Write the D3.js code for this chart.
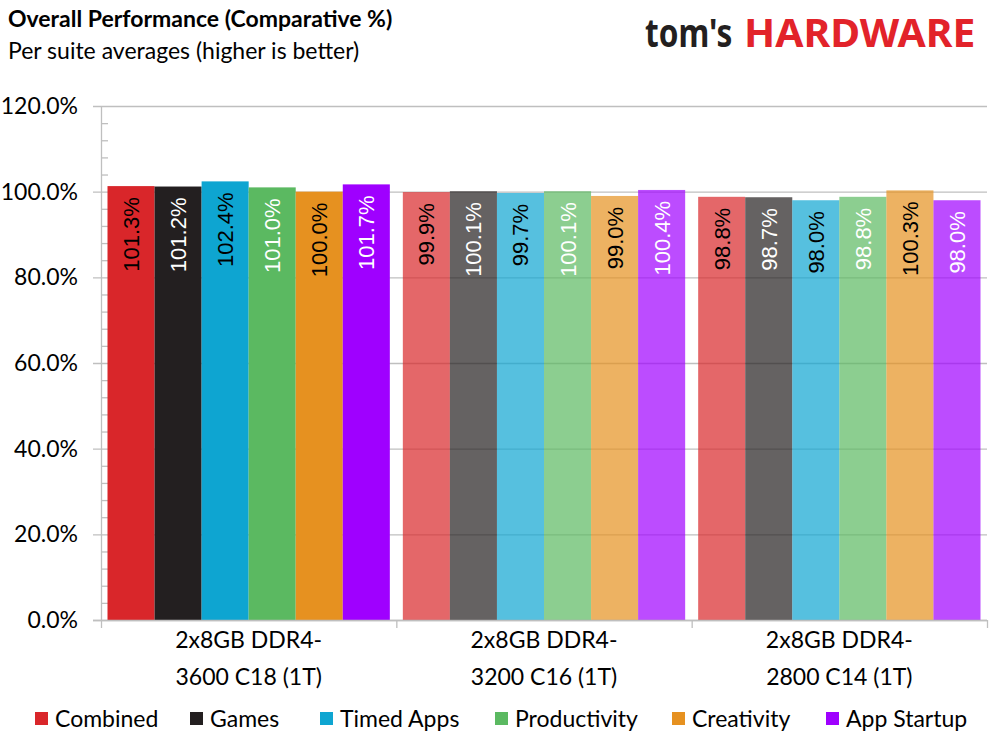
<!DOCTYPE html>
<html lang="en">
<head>
<meta charset="utf-8">
<title>Overall Performance</title>
<script src="https://cdn.jsdelivr.net/npm/d3@7"></script>
<style>
  body { margin: 0; background: #fff; }
  text { font-family: Lato, "Open Sans", sans-serif; fill: #000; }
</style>
</head>
<body>
<script>
// data
var categories = ["2x8GB DDR4-3600 C18 (1T)", "2x8GB DDR4-3200 C16 (1T)", "2x8GB DDR4-2800 C14 (1T)"];
var catLines = [["2x8GB DDR4-", "3600 C18 (1T)"], ["2x8GB DDR4-", "3200 C16 (1T)"], ["2x8GB DDR4-", "2800 C14 (1T)"]];
var seriesNames = ["Combined", "Games", "Timed Apps", "Productivity", "Creativity", "App Startup"];
var combined = [101.3, 99.9, 98.8];
var games = [101.2, 100.1, 98.7];
var timedApps = [102.4, 99.7, 98.0];
var productivity = [101.0, 100.1, 98.8];
var creativity = [100.0, 99.0, 100.3];
var appStartup = [101.7, 100.4, 98.0];
var yTicks = [0, 20, 40, 60, 80, 100, 120];

var seriesValues = [combined, games, timedApps, productivity, creativity, appStartup];
var colors = ["#D9262A", "#231F20", "#0EA5D1", "#5BB961", "#E69120", "#9F00FF"];
var labelColors = ["#000", "#fff", "#000", "#fff", "#000", "#fff"];

var w = 989, h = 742;
var plotLeft = 101, plotRight = 987, plotTop = 106, plotBottom = 620;
var grid = "#BFBFBF";

var svg = d3.select("body").append("svg").attr("width", w).attr("height", h);

// titles
svg.append("text").attr("x", 8).attr("y", 27)
    .style("font-size", "23px").style("font-weight", "bold")
    .text("Overall Performance (Comparative %)");
svg.append("text").attr("x", 8).attr("y", 59)
    .style("font-size", "23px")
    .text("Per suite averages (higher is better)");

// logo: squeeze "tom's" horizontally with a transform so its box ends before "HARDWARE"
svg.append("text").attr("transform", "translate(645,47) scale(0.79,1)")
    .style("font-size", "40px").style("font-weight", "bold").style("fill", "#231F20")
    .style("font-family", "'Noto Sans', sans-serif")
    .text("tom's");
svg.append("text").attr("transform", "translate(744,47) scale(1.02,1)")
    .style("font-size", "40px").style("font-weight", "bold").style("fill", "#E2232A")
    .style("font-family", "'Noto Sans', sans-serif")
    .text("HARDWARE");

// scales
var yScale = d3.scaleLinear().domain([0, 120]).range([plotBottom, plotTop]);
var x0 = d3.scaleBand().domain(categories).range([plotLeft, plotRight]);
var x1 = d3.scaleBand().domain(seriesNames).range([6.5, x0.bandwidth() - 6.5]);

// gridlines
svg.append("g").selectAll("line").data(yTicks).enter().append("line")
    .attr("x1", plotLeft - 8).attr("x2", plotRight)
    .attr("y1", function(d) { return yScale(d) + 0.5; })
    .attr("y2", function(d) { return yScale(d) + 0.5; })
    .style("stroke", grid).style("stroke-width", 1.3);

// y axis with minor ticks
var minor = d3.range(0, 121, 4).filter(function(d) { return d % 20 != 0; });
svg.append("g").selectAll("line").data(minor).enter().append("line")
    .attr("x1", plotLeft).attr("x2", plotLeft + 7)
    .attr("y1", function(d) { return yScale(d) + 0.5; })
    .attr("y2", function(d) { return yScale(d) + 0.5; })
    .style("stroke", grid).style("stroke-width", 1.3);
svg.append("line").attr("x1", plotLeft + 0.5).attr("x2", plotLeft + 0.5)
    .attr("y1", plotTop).attr("y2", plotBottom)
    .style("stroke", grid).style("stroke-width", 1.3);

svg.append("g").selectAll("text").data(yTicks).enter().append("text")
    .attr("x", 78).attr("y", function(d) { return yScale(d) + 8; })
    .attr("text-anchor", "end").style("font-size", "23px")
    .text(function(d) { return d3.format(".1f")(d) + "%"; });

// bars
var groups = svg.append("g").selectAll("g").data(categories).enter().append("g")
    .attr("transform", function(d) { return "translate(" + x0(d) + ",0)"; });

groups.each(function(cat, ci) {
    var g = d3.select(this);
    var rows = seriesNames.map(function(s, si) { return { s: s, si: si, v: seriesValues[si][ci] }; });
    g.selectAll("rect").data(rows).enter().append("rect")
        .attr("x", function(d) { return x1(d.s); })
        .attr("width", x1.bandwidth())
        .attr("y", function(d) { return yScale(d.v); })
        .attr("height", function(d) { return plotBottom - yScale(d.v); })
        .style("fill", function(d) { return colors[d.si]; })
        .style("fill-opacity", ci == 0 ? 1 : 0.7);
    g.selectAll("text").data(rows).enter().append("text")
        .attr("transform", function(d) {
            return "translate(" + (x1(d.s) + x1.bandwidth() / 2 + 8) + "," + (yScale(d.v) + 11) + ") rotate(-90)";
        })
        .attr("text-anchor", "end")
        .style("font-family", "'Liberation Sans', Arial, sans-serif")
        .style("font-size", "22px")
        .style("fill", function(d) { return labelColors[d.si]; })
        .text(function(d) { return d3.format(".1f")(d.v) + "%"; });
});

// x axis
svg.append("line").attr("x1", plotLeft - 8).attr("x2", plotRight)
    .attr("y1", plotBottom + 0.5).attr("y2", plotBottom + 0.5)
    .style("stroke", grid).style("stroke-width", 1.3);
var sep = categories.map(function(c) { return x0(c); }).concat([plotRight]);
svg.append("g").selectAll("line").data(sep).enter().append("line")
    .attr("x1", function(d) { return d + 0.5; }).attr("x2", function(d) { return d + 0.5; })
    .attr("y1", plotBottom).attr("y2", plotBottom + 8)
    .style("stroke", grid).style("stroke-width", 1.3);

svg.append("g").selectAll("text").data(categories).enter().append("text")
    .attr("x", function(d) { return x0(d) + x0.bandwidth() / 2; })
    .attr("text-anchor", "middle").style("font-size", "23px")
    .each(function(d, i) {
        var t = d3.select(this);
        catLines[i].forEach(function(line, j) {
            t.append("tspan").attr("x", x0(d) + x0.bandwidth() / 2)
                .attr("y", 648 + j * 37).text(line);
        });
    });

// legend
var legendX = [35, 190, 320, 495, 672, 826];
var legend = svg.append("g").selectAll("g").data(seriesNames).enter().append("g")
    .attr("transform", function(d, i) { return "translate(" + legendX[i] + ",712)"; });
legend.append("rect").attr("width", 13).attr("height", 13)
    .style("fill", function(d, i) { return colors[i]; });
legend.append("text").attr("x", 20).attr("y", 15).style("font-size", "23px")
    .text(function(d) { return d; });
</script>
</body>
</html>
